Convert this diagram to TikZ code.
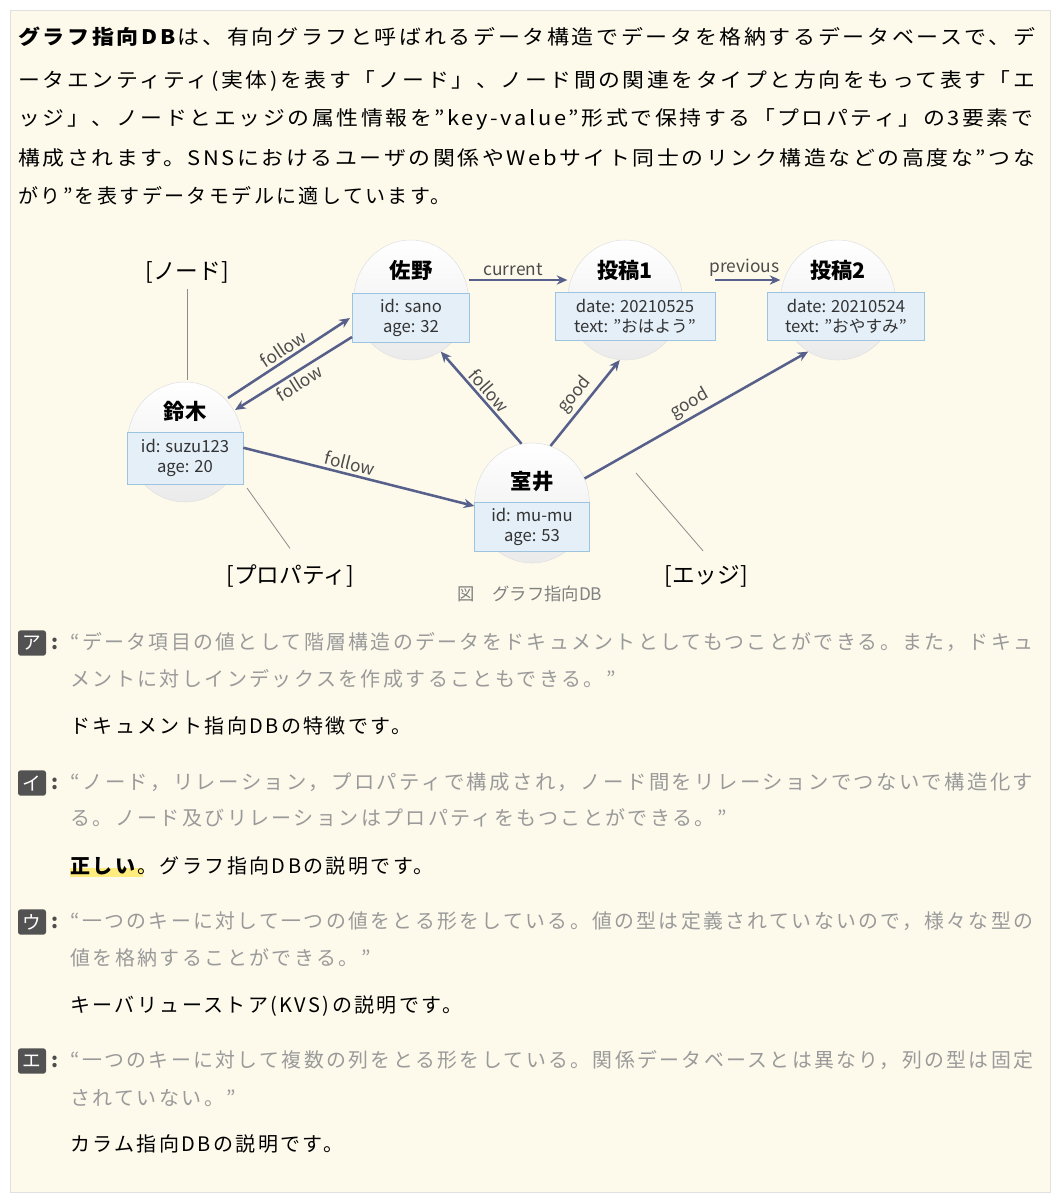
\documentclass[tikz,border=0pt]{standalone}
\usepackage{fontspec}
\usepackage{graphicx}
\setmainfont{Noto Sans CJK JP}[LetterSpace=12]
\newfontfamily\dg{Noto Sans CJK JP}
\usetikzlibrary{shapes.geometric,arrows.meta}
\definecolor{bg}{HTML}{FDFAEC}
\definecolor{edge}{HTML}{56608A}
\definecolor{qgray}{HTML}{9A9A9A}
\definecolor{pfill}{HTML}{E4EFF8}
\definecolor{pline}{HTML}{9CC3E0}
\newcommand\fitline[2]{\setbox0\hbox{#2}\pgfmathsetmacro\fr{#1*0.75/\wd0}\scalebox{\fr}[1]{\box0}}
\newcommand\dq{\symbol{34}}
\begin{document}
\begin{tikzpicture}[x=0.75pt,y=-0.75pt,
  txt/.style={anchor=base west,inner sep=0,font=\fontsize{15}{18}\selectfont},
  q/.style={txt,text=qgray},
  circ/.style={ellipse,minimum width=86pt,minimum height=90pt,draw=black!12,top color=white,bottom color=black!8,inner sep=0},
  ttl/.style={font=\dg\bfseries\fontsize{16}{18}\selectfont,inner sep=0},
  prop/.style={draw=pline,fill=pfill,align=center,font=\dg\fontsize{12.5}{15}\selectfont,inner sep=1pt,text=black!80},
  arr/.style={draw=edge,line width=1.9pt,-{Stealth[length=8pt,width=7pt]}},
  elab/.style={font=\dg\fontsize{13}{15}\selectfont,text=black!70,inner sep=2pt},
  ann/.style={draw=black!45,line width=0.6pt},
  annt/.style={font=\dg\fontsize{17}{19}\selectfont,inner sep=0},
  badge/.style={fill=black!68,rounded corners=2pt,text=white,minimum width=21pt,minimum height=19pt,inner sep=0,font=\dg\fontsize{14}{16}\selectfont}]
\useasboundingbox (0,0) rectangle (1054,1200);
\fill[white] (0,0) rectangle (1054,1200);
\filldraw[fill=bg,draw=black!12] (10,10) rectangle (1050,1192);
% intro
\node[txt] (l1) at (18,44) {\fitline{1017}{\textbf{グラフ指向DB}は、有向グラフと呼ばれるデータ構造でデータを格納するデータベースで、デ}};
\node[txt] (l2) at (18,87) {\fitline{1017}{ータエンティティ(実体)を表す「ノード」、ノード間の関連をタイプと方向をもって表す「エ}};
\node[txt] (l3) at (18,125) {\fitline{1015}{ッジ」、ノードとエッジの属性情報を\dq key-value\dq 形式で保持する「プロパティ」の3要素で}};
\node[txt] (l4) at (18,165) {\fitline{1017}{構成されます。SNSにおけるユーザの関係やWebサイト同士のリンク構造などの高度な\dq つな}};
\node[txt] (l5) at (18,203) {がり\dq を表すデータモデルに適しています。};
% diagram nodes
\node[circ] (sano) at (411,300) {};
\node[circ] (p1) at (625,300) {};
\node[circ] (p2) at (838,300) {};
\node[circ] (suzu) at (185,442) {};
\node[circ] (muro) at (532,503) {};
\node[ttl] at (411,270) {佐野};
\node[ttl] at (625,270) {投稿1};
\node[ttl] at (838,270) {投稿2};
\node[ttl] at (185,411) {鈴木};
\node[ttl] at (532,481) {室井};
\node[prop,minimum width=88pt,minimum height=37pt] (sanop) at (411,318) {id: sano\\age: 32};
\node[prop,minimum width=120pt,minimum height=36pt] (p1p) at (635,316) {date: 20210525\\text: ”おはよう”};
\node[prop,minimum width=118pt,minimum height=36pt] (p2p) at (846,316) {date: 20210524\\text: ”おやすみ”};
\node[prop,minimum width=87pt,minimum height=39pt] (suzup) at (185,458) {id: suzu123\\age: 20};
\node[prop,minimum width=86pt,minimum height=37pt] (murop) at (532,527) {id: mu-mu\\age: 53};
% edges
\coordinate (f1s) at (228,398);
\coordinate (f1e) at (350,318);
\coordinate (f2s) at (352,337);
\coordinate (f2e) at (235,410);
\draw[arr] (sano.east |- 0,280) -- node[elab,above,pos=0.45] {current} (p1.west |- 0,280);
\draw[arr] (p1p.north east |- 0,280) -- node[elab,above,pos=0.45] {previous} (p2.west |- 0,280);
\draw[arr] (f1s) -- node[elab,above,sloped] {follow} (f1e);
\draw[arr] (f2s) -- node[elab,below,sloped] {follow} (f2e);
\draw[arr] (suzup.10) -- node[elab,above,sloped,pos=0.45] {follow} (murop.160);
\draw[arr] (muro.100) -- node[elab,above,sloped] {follow} (sano.-60);
\draw[arr] (muro.72) -- node[elab,above,sloped] {good} (p1.-95);
\draw[arr] (muro.25) -- node[elab,above,sloped] {good} (p2.-120);
% annotations
\node[annt] (an1) at (187,272) {[ノード]};
\node[annt] (an2) at (290,576) {[プロパティ]};
\node[annt] (an3) at (706,576) {[エッジ]};
\coordinate (c1) at (187,380);
\coordinate (c2) at (247,488);
\coordinate (c3) at (636,473);
\draw[ann] (an1.south) ++(0,6) -- (c1);
\draw[ann] (an2.north) ++(0,-16) -- (c2);
\draw[ann] (an3.north) ++(-3,-14) -- (c3);
\node[font=\dg\fontsize{13}{15}\selectfont,text=black!50] (cap) at (530,594) {図\quad グラフ指向DB};
% answers
\node[badge] (ba) at (32,643) {ア};
\node[txt,text=black!70,font=\bfseries\fontsize{15}{18}\selectfont] at (51,649) {:};
\node[q] at (70,649) {\fitline{963}{“データ項目の値として階層構造のデータをドキュメントとしてもつことができる。また，ドキュ}};
\node[q] at (70,686) {メントに対しインデックスを作成することもできる。”};
\node[txt] at (70,733) {ドキュメント指向DBの特徴です。};
\node[badge] (bi) at (32,783) {イ};
\node[txt,text=black!70,font=\bfseries\fontsize{15}{18}\selectfont] at (51,789) {:};
\node[q] at (70,789) {\fitline{963}{“ノード，リレーション，プロパティで構成され，ノード間をリレーションでつないで構造化す}};
\node[q] at (70,825) {る。ノード及びリレーションはプロパティをもつことができる。”};
\fill[yellow!80!orange!50] (70,868) rectangle (143,877);
\node[txt] at (70,873) {\textbf{正しい}。グラフ指向DBの説明です。};
\node[badge] (bu) at (32,922) {ウ};
\node[txt,text=black!70,font=\bfseries\fontsize{15}{18}\selectfont] at (51,928) {:};
\node[q] at (70,928) {\fitline{963}{“一つのキーに対して一つの値をとる形をしている。値の型は定義されていないので，様々な型の}};
\node[q] at (70,965) {値を格納することができる。”};
\node[txt] at (70,1012) {キーバリューストア(KVS)の説明です。};
\node[badge] (be) at (32,1061) {エ};
\node[txt,text=black!70,font=\bfseries\fontsize{15}{18}\selectfont] at (51,1067) {:};
\node[q] at (70,1067) {\fitline{963}{“一つのキーに対して複数の列をとる形をしている。関係データベースとは異なり，列の型は固定}};
\node[q] at (70,1105) {されていない。”};
\node[txt] at (70,1151) {カラム指向DBの説明です。};
\end{tikzpicture}
\end{document}
